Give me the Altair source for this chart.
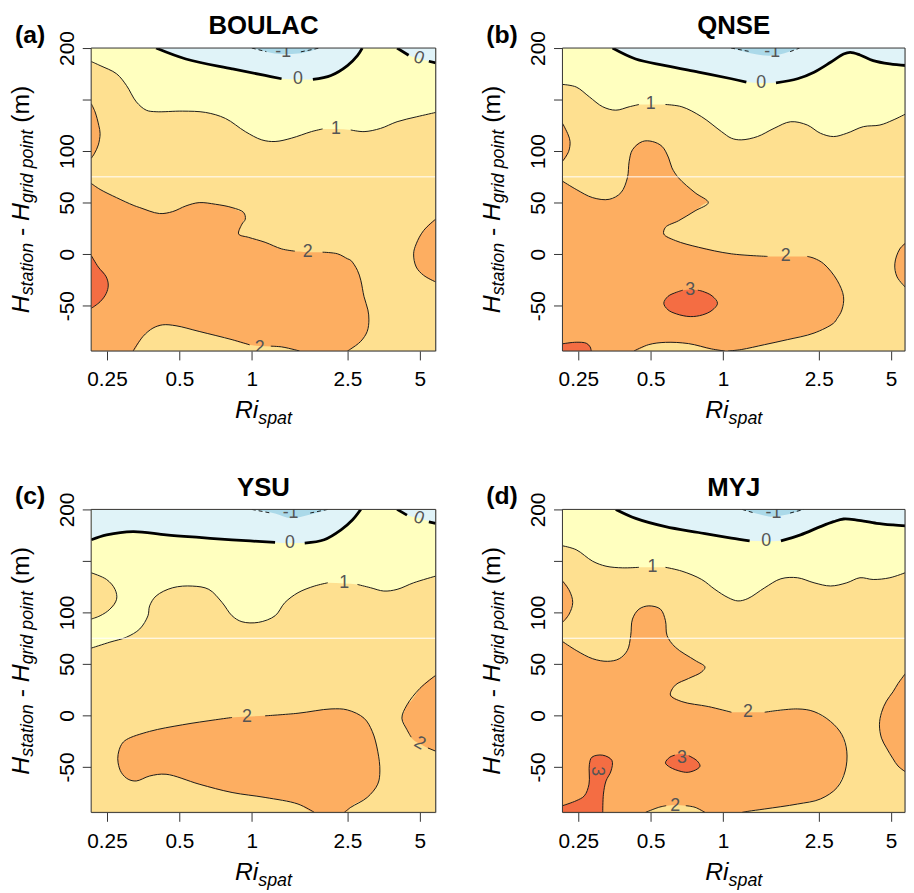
import altair as alt
import pandas as pd

# ---------------- shared texts / ticks ----------------
PANEL_TITLES = ["BOULAC", "QNSE", "YSU", "MYJ"]
PANEL_TAGS = ["(a)", "(b)", "(c)", "(d)"]
X_TICKS = [0.25, 0.5, 1, 2.5, 5]
Y_TICKS = [-50, 0, 50, 100, 150, 200]
Y_DOMAIN = [-94, 200]
WHITE_LINE_Y = [75]
X_TITLE_TEXT = ["Ri", "spat"]
Y_TITLE_TEXT = ["H", "station", "-", "H", "grid point", "(m)"]

BAND_COLORS = {"neg1": "#abd9e9", "neg0": "#e0f3f8", "b01": "#ffffbf",
               "b12": "#fee090", "b23": "#fdae61", "b3": "#f46d43"}

# ---------------- (a) BOULAC ----------------  rows: (x, upper, lower)
A_YELLOW = [(0.215, 200, 186.9), (0.234, 200, 183), (0.274, 200, 175), (0.301, 200, 163.8), (0.331, 200, 147.8),
            (0.364, 200, 139.7), (0.40, 200, 138.2), (0.515, 200, 138.8), (0.643, 200, 137.5), (0.777, 200, 131.7),
            (0.94, 200, 118.9), (1.10, 200, 110.9), (1.25, 200, 109.3), (1.46, 200, 112.5), (1.77, 200, 118.9),
            (1.97, 200, 121.5), (2.24, 200, 121.5), (2.58, 200, 120.5), (2.93, 200, 118.9), (3.43, 200, 122),
            (4.02, 200, 128.5), (4.85, 200, 133.3), (5.82, 200, 137.5)]
A_BLUE_1 = [(0.40, 200, 200), (0.532, 200, 189.4), (0.828, 200, 179.8), (1.136, 200, 173.4), (1.33, 200, 170.2),
            (1.557, 200, 169.5), (1.795, 200, 169.5), (2.135, 200, 173.4), (2.50, 200, 183), (2.75, 200, 192.6),
            (2.88, 200, 200)]
A_BLUE_2 = [(4.02, 200, 200), (4.49, 200, 193), (5.0, 200, 189.4), (5.82, 200, 185.6)]
A_NEG1 = [(1.0, 200, 200), (1.15, 200, 196.5), (1.35, 200, 194), (1.6, 200, 195), (1.91, 200, 200)]
A_ORANGE_UL = [(0.215, 146, 93), (0.223, 138, 98.5), (0.231, 125, 108), (0.234, 117, 117)]
A_ORANGE_MAIN = [(0.215, 68.6, -94), (0.234, 62.8, -94), (0.274, 54.8, -94), (0.321, 47.5, -94), (0.342, 45.2, -85),
                 (0.353, 44.2, -79.8), (0.388, 41, -71.8), (0.413, 39.4, -70), (0.426, 39.8, -68.6),
                 (0.469, 41.3, -69), (0.484, 42.8, -69.5), (0.532, 46.8, -71.4), (0.604, 50, -75),
                 (0.707, 48.4, -79), (0.828, 45.2, -83), (0.88, 42, -85.5), (0.925, 40.4, -87), (0.94, 34, -87.3),
                 (0.945, 17.3, -87.4), (0.97, 16.3, -88), (1.136, 11.5, -89.5), (1.33, 5.1, -90),
                 (1.51, 2.9, -92.8), (1.58, 2.5, -94), (1.71, 1.9, -94), (1.97, 1.9, -94), (2.275, 0.3, -94),
                 (2.5, -4.5, -94), (2.58, -6, -92), (2.75, -15.7, -87.5), (2.84, -25.3, -84.6),
                 (2.93, -41.3, -80.5), (3.02, -51.5, -75), (3.04, -54.1, -72), (3.07, -63.8, -63.8)]
A_NOTCH = [(0.882, 19.5, 19.5), (0.91, 29.1, 18.4), (0.94, 34, 17.4), (0.947, 34, 17.2)]
A_ORANGE_R = [(4.71, 0.3, 0.3), (4.83, 10, -12.5), (5.18, 22.8, -20.5), (5.82, 34, -27)]
A_RED = [(0.215, -1.3, -52.6), (0.23, -12.5, -47.5), (0.248, -22, -38.2), (0.253, -30, -30)]
A_PATCHES = [("b01", A_YELLOW), ("neg0", A_BLUE_1), ("neg0", A_BLUE_2), ("neg1", A_NEG1),
             ("b23", A_ORANGE_UL), ("b23", A_ORANGE_MAIN), ("b12", A_NOTCH), ("b23", A_ORANGE_R), ("b3", A_RED)]
A_THICK = [[(0.40, 200), (0.532, 189.4), (0.828, 179.8), (1.136, 173.4), (1.33, 170.2)],
           [(1.795, 169.5), (2.135, 173.4), (2.50, 183), (2.75, 192.6), (2.88, 200)],
           [(4.02, 200), (4.49, 193)], [(5.45, 187.2), (5.82, 185.6)]]
A_THIN = [[(0.215, 186.9), (0.234, 183), (0.274, 175), (0.301, 163.8), (0.331, 147.8), (0.364, 139.7), (0.40, 138.2),
           (0.515, 138.8), (0.643, 137.5), (0.777, 131.7), (0.94, 118.9), (1.10, 110.9), (1.25, 109.3),
           (1.46, 112.5), (1.77, 118.9), (1.97, 121.5)],
          [(2.58, 120.5), (2.93, 118.9), (3.43, 122), (4.02, 128.5), (4.85, 133.3), (5.82, 137.5)],
          [(0.215, 146), (0.223, 138), (0.231, 125), (0.234, 117), (0.23, 106), (0.222, 98), (0.215, 93)],
          [(0.215, 68.6), (0.234, 62.8), (0.274, 54.8), (0.321, 47.5), (0.342, 45.2), (0.413, 39.4), (0.469, 41.3),
           (0.532, 46.8), (0.604, 50), (0.707, 48.4), (0.828, 45.2), (0.925, 40.4), (0.94, 34), (0.91, 29.1),
           (0.882, 19.5), (0.97, 16.3), (1.136, 11.5), (1.33, 5.1), (1.51, 2.9)],
          [(1.97, 1.9), (2.275, 0.3), (2.5, -4.5), (2.58, -6), (2.75, -15.7), (2.84, -25.3), (2.93, -41.3),
           (3.04, -54.1), (3.07, -63.8), (3.02, -75), (2.84, -84.6), (2.58, -92), (2.5, -94)],
          [(0.321, -94), (0.353, -79.8), (0.388, -71.8), (0.426, -68.6), (0.484, -69.5), (0.604, -75),
           (0.828, -83), (0.98, -88)],
          [(1.2, -89.3), (1.33, -90), (1.51, -92.8), (1.58, -94)],
          [(0.215, -1.3), (0.23, -12.5), (0.248, -22), (0.253, -30), (0.248, -38.2), (0.234, -46.2), (0.215, -52.6)],
          [(5.82, 34), (5.18, 22.8), (4.83, 10), (4.71, 0.3), (4.83, -12.5), (5.18, -20.5), (5.82, -27)]]
A_DASH = [[(1.0, 200), (1.15, 196.5)], [(1.6, 196.3), (1.91, 200)]]
A_LABELS = [("0", 1.557, 169.5, 0), ("0", 4.95, 190, 20), ("1", 2.24, 121.5, 0), ("2", 1.71, 1.9, 0),
            ("2", 1.08, -91, 0), ("-1", 1.35, 196, 0)]

# ---------------- (b) QNSE ----------------
B_YELLOW = [(0.215, 200, 164.7), (0.245, 200, 162.2), (0.278, 200, 152.6), (0.316, 200, 143), (0.358, 200, 139.7),
            (0.407, 200, 143), (0.447, 200, 145.2), (0.5, 200, 145.2), (0.576, 200, 145.2), (0.674, 200, 143),
            (0.815, 200, 133.3), (0.985, 200, 118.9), (1.083, 200, 112.5), (1.19, 200, 110.9), (1.39, 200, 114.1),
            (1.63, 200, 122.1), (1.91, 200, 128.5), (2.24, 200, 125.3), (2.54, 200, 117.3), (2.88, 200, 114.1),
            (3.27, 200, 117.3), (3.83, 200, 123.7), (4.49, 200, 125.3), (5.09, 200, 130.1), (5.8, 200, 136.5)]
B_BLUE = [(0.347, 200, 200), (0.433, 200, 189.4), (0.576, 200, 183), (0.79, 200, 176.6), (1.083, 200, 170.2),
          (1.25, 200, 167), (1.44, 200, 166), (1.66, 200, 166.3), (2.04, 200, 170.2), (2.39, 200, 176.6),
          (2.80, 200, 186.2), (3.17, 200, 194.2), (3.38, 200, 195.8), (3.71, 200, 193.3), (4.21, 200, 187.8),
          (4.94, 200, 184.6), (5.8, 200, 183)]
B_NEG1 = [(1.08, 200, 200), (1.3, 200, 195), (1.55, 200, 192.6), (1.8, 200, 195), (2.08, 200, 200)]
B_ORANGE_UL = [(0.215, 126.9, 90.1), (0.227, 115.7, 98.5), (0.231, 109.3, 105), (0.232, 107, 107)]
B_ORANGE_MAIN = [(0.215, 70.8, -94), (0.245, 62.8, -94), (0.287, 54.8, -94), (0.336, 53.2, -94), (0.376, 59.6, -94),
                 (0.40, 74, -94), (0.407, 90.1, -94), (0.42, 101.3, -94), (0.426, 104, -94), (0.462, 109.3, -91),
                 (0.491, 109.8, -87.8), (0.508, 109.3, -87.2), (0.558, 104.5, -85.8), (0.594, 93.3, -85.7),
                 (0.613, 83.7, -85.9), (0.653, 74, -86.3), (0.718, 65, -86.8), (0.765, 59.6, -88.5),
                 (0.868, 50, -92), (0.872, 5.1, -92.1), (0.896, 4.2, -92.4), (1.016, 1.2, -94), (1.05, 0.6, -94),
                 (1.083, 0.3, -93.5), (1.19, -0.8, -92.6), (1.49, -2.2, -87.8), (1.82, -2.2, -83.2),
                 (2.24, -2.2, -78.3), (2.39, -4, -76.6), (2.62, -9.3, -72.5), (2.88, -20, -67),
                 (2.98, -25.3, -62.5), (3.12, -36, -54.1), (3.17, -41.3, -41.3)]
B_NOTCH = [(0.567, 19.5, 19.5), (0.576, 26, 18.6), (0.633, 30.8, 13.2), (0.653, 32.4, 12.3), (0.765, 42, 7.6),
           (0.868, 50, 5.2), (0.878, 50, 5.0)]
B_RED_1 = [(0.567, -47.7, -47.7), (0.59, -41, -54), (0.64, -37, -58), (0.73, -34.3, -60.6), (0.82, -36, -59),
           (0.9, -40.5, -54.5), (0.948, -47.7, -47.7)]
B_RED_2 = [(0.215, -87, -94), (0.245, -85.5, -94), (0.27, -86.5, -94), (0.28, -90, -94), (0.283, -94, -94)]
B_ORANGE_R = [(5.18, -9.3, -9.3), (5.29, -1, -22), (5.43, 5, -25), (5.8, 11.5, -33.3)]
B_PATCHES = [("b01", B_YELLOW), ("neg0", B_BLUE), ("neg1", B_NEG1), ("b23", B_ORANGE_UL), ("b23", B_ORANGE_MAIN),
             ("b12", B_NOTCH), ("b3", B_RED_1), ("b3", B_RED_2), ("b23", B_ORANGE_R)]
B_THICK = [[(0.347, 200), (0.433, 189.4), (0.576, 183), (0.79, 176.6), (1.083, 170.2), (1.25, 167)],
           [(1.66, 166.3), (2.04, 170.2), (2.39, 176.6), (2.80, 186.2), (3.17, 194.2), (3.38, 195.8), (3.71, 193.3),
            (4.21, 187.8), (4.94, 184.6), (5.8, 183)]]
B_THIN = [[(0.215, 164.7), (0.245, 162.2), (0.278, 152.6), (0.316, 143), (0.358, 139.7), (0.407, 143), (0.447, 145.2)],
          [(0.576, 145.2), (0.674, 143), (0.815, 133.3), (0.985, 118.9), (1.083, 112.5), (1.19, 110.9), (1.39, 114.1),
           (1.63, 122.1), (1.91, 128.5), (2.24, 125.3), (2.54, 117.3), (2.88, 114.1), (3.27, 117.3), (3.83, 123.7),
           (4.49, 125.3), (5.09, 130.1), (5.8, 136.5)],
          [(0.215, 126.9), (0.227, 115.7), (0.231, 109.3), (0.228, 99.7), (0.215, 90.1)],
          [(0.215, 70.8), (0.245, 62.8), (0.287, 54.8), (0.336, 53.2), (0.376, 59.6), (0.40, 74), (0.407, 90.1),
           (0.42, 101.3), (0.462, 109.3), (0.508, 109.3), (0.558, 104.5), (0.594, 93.3), (0.613, 83.7),
           (0.653, 74), (0.765, 59.6), (0.868, 50), (0.765, 42), (0.653, 32.4), (0.576, 26), (0.567, 19.5),
           (0.633, 13.2), (0.79, 6.7), (1.083, 0.3), (1.53, -2.2)],
          [(2.24, -2.2), (2.39, -4), (2.62, -9.3), (2.98, -25.3), (3.17, -41.3), (3.12, -54.1), (2.98, -62.5),
           (2.88, -67), (2.39, -76.6), (1.85, -83), (1.49, -87.8), (1.19, -92.6), (1.05, -94)],
          [(0.426, -94), (0.491, -87.8), (0.576, -85.6), (0.718, -86.8), (0.896, -92), (1.016, -94)],
          [(0.68, -35), (0.64, -37), (0.59, -41), (0.567, -47.7), (0.59, -54), (0.64, -58), (0.73, -60.6),
           (0.82, -59), (0.9, -54.5), (0.948, -47.7), (0.9, -40.5), (0.82, -36), (0.785, -35)],
          [(0.215, -87), (0.245, -85.5), (0.27, -86.5), (0.28, -90), (0.283, -94)],
          [(5.8, 11.5), (5.43, 5), (5.18, -9.3), (5.29, -22), (5.8, -33.3)]]
B_DASH = [[(1.08, 200), (1.3, 196.5)], [(1.9, 196.5), (2.08, 200)]]
B_LABELS = [("0", 1.44, 166, 0), ("1", 0.5, 145.2, 0), ("2", 1.82, -2.2, 0), ("3", 0.73, -35, 0),
            ("-1", 1.6, 196, 0)]

# ---------------- (c) YSU ----------------
C_YELLOW = [(0.215, 200, 65.4), (0.257, 200, 71.2), (0.301, 200, 76), (0.342, 200, 84), (0.37, 200, 96.8),
            (0.376, 200, 106.4), (0.40, 200, 116), (0.469, 200, 124), (0.567, 200, 125.6), (0.663, 200, 122.4),
            (0.753, 200, 109.6), (0.828, 200, 96.8), (0.91, 200, 91), (1.066, 200, 90.4), (1.25, 200, 96.8),
            (1.373, 200, 109.6), (1.557, 200, 119.2), (1.82, 200, 125.6), (2.07, 200, 128.8), (2.425, 200, 128.2),
            (2.75, 200, 127.2), (3.12, 200, 124), (3.54, 200, 120.8), (4.02, 200, 122.4), (4.71, 200, 128.8),
            (5.82, 200, 135.3)]
C_BLUE_1 = [(0.215, 200, 170.5), (0.249, 200, 175.3), (0.321, 200, 178.5), (0.44, 200, 175.3), (0.604, 200, 172.8),
            (0.828, 200, 170.5), (1.25, 200, 168), (1.44, 200, 167.3), (1.66, 200, 167.3), (2.0, 200, 170.5),
            (2.35, 200, 180.1), (2.62, 200, 189.7), (2.84, 200, 200)]
C_BLUE_2 = [(4.02, 200, 200), (4.42, 200, 194.5), (5.0, 200, 191.3), (5.82, 200, 186.5)]
C_NEG1 = [(1.0, 200, 200), (1.25, 200, 196), (1.45, 200, 191.5), (1.75, 200, 195), (2.07, 200, 200)]
C_LIGHT_L = [(0.215, 138.5, 93.6), (0.234, 135, 96.8), (0.249, 132, 100.9), (0.257, 129.5, 103.2),
             (0.27, 122.4, 107.5), (0.274, 112.8, 112.8)]
C_ORANGE_MAIN = [(0.277, -40, -43), (0.278, -37.8, -45.9), (0.287, -28.2, -55.5), (0.301, -23.4, -60.5),
                 (0.306, -22.4, -61.8), (0.331, -19, -63.5), (0.376, -15.4, -58.7), (0.44, -12.2, -57),
                 (0.515, -9, -61.5), (0.604, -6.5, -66.6), (0.707, -4.1, -71.5), (0.828, -1.9, -74.7),
                 (1.136, -0.3, -79.5), (1.557, 2.2, -85.9), (1.82, 4.5, -94), (2.135, 6.4, -94), (2.425, 6, -94),
                 (2.5, 5.4, -93), (2.58, 4.2, -89.1), (2.93, -2.6, -81.3), (3.02, -6, -79.5), (3.17, -15.4, -74.5),
                 (3.34, -34.6, -66.6), (3.41, -53.8, -53.8)]
C_ORANGE_R = [(4.21, -2.6, -2.6), (4.42, 10.3, -13.8), (4.6, 14, -21), (5.0, 26.3, -27.5), (5.82, 39, -34.6)]
C_PATCHES = [("b01", C_YELLOW), ("neg0", C_BLUE_1), ("neg0", C_BLUE_2), ("neg1", C_NEG1), ("b12", C_LIGHT_L),
             ("b23", C_ORANGE_MAIN), ("b23", C_ORANGE_R)]
C_THICK = [[(0.215, 170.5), (0.249, 175.3), (0.321, 178.5), (0.44, 175.3), (0.604, 172.8), (0.828, 170.5),
            (1.25, 168)],
           [(1.66, 167.3), (2.0, 170.5), (2.35, 180.1), (2.62, 189.7), (2.84, 200)],
           [(4.02, 200), (4.42, 194.5)], [(5.45, 188), (5.82, 186.5)]]
C_THIN = [[(0.215, 65.4), (0.257, 71.2), (0.301, 76), (0.342, 84), (0.37, 96.8), (0.376, 106.4), (0.40, 116),
           (0.469, 124), (0.567, 125.6), (0.663, 122.4), (0.753, 109.6), (0.828, 96.8), (0.91, 91), (1.066, 90.4),
           (1.25, 96.8), (1.373, 109.6), (1.557, 119.2), (1.82, 125.6), (2.07, 128.8)],
          [(2.75, 127.2), (3.12, 124), (3.54, 120.8), (4.02, 122.4), (4.71, 128.8), (5.82, 135.3)],
          [(0.215, 138.5), (0.249, 132), (0.27, 122.4), (0.274, 112.8), (0.257, 103.2), (0.234, 96.8),
           (0.215, 93.6)],
          [(0.828, -1.9), (0.707, -4.1), (0.515, -9), (0.376, -15.4), (0.301, -23.4), (0.287, -28.2),
           (0.278, -37.8), (0.278, -45.9), (0.287, -55.5), (0.306, -61.8), (0.331, -63.5), (0.376, -58.7),
           (0.44, -57), (0.604, -66.6), (0.828, -74.7), (1.136, -79.5), (1.557, -85.9), (1.82, -94)],
          [(1.136, -0.3), (1.557, 2.2), (2.135, 6.4), (2.5, 5.4), (2.93, -2.6), (3.17, -15.4), (3.34, -34.6),
           (3.41, -53.8), (3.34, -66.6), (3.02, -79.5), (2.58, -89.1), (2.425, -94)],
          [(5.82, 39), (5.0, 26.3), (4.42, 10.3), (4.21, -2.6), (4.42, -13.8), (4.6, -21)],
          [(5.4, -31.5), (5.82, -34.6)]]
C_DASH = [[(1.0, 200), (1.2, 196.5)], [(1.75, 196.5), (2.07, 200)]]
C_LABELS = [("0", 1.44, 167.3, 0), ("0", 4.95, 191.5, 20), ("1", 2.425, 128.2, 0), ("2", 0.954, -1.5, 0),
            ("2", 5.0, -27, 30), ("-1", 1.45, 196, 0)]

# ---------------- (d) MYJ ----------------
D_YELLOW = [(0.215, 200, 164.7), (0.245, 200, 160.9), (0.287, 200, 149.7), (0.326, 200, 144.9), (0.382, 200, 143.3),
            (0.447, 200, 143.8), (0.508, 200, 143.8), (0.576, 200, 143.8), (0.674, 200, 140.1), (0.815, 200, 132),
            (0.925, 200, 122.4), (1.05, 200, 114.4), (1.153, 200, 111.2), (1.268, 200, 113.5), (1.49, 200, 124),
            (1.74, 200, 132.7), (2.04, 200, 133.7), (2.39, 200, 128.8), (2.80, 200, 125.7), (3.27, 200, 128.8),
            (3.71, 200, 133.7), (4.21, 200, 132), (4.94, 200, 133.7), (5.8, 200, 139.1)]
D_BLUE = [(0.358, 200, 200), (0.433, 200, 191.3), (0.576, 200, 183.3), (0.79, 200, 177.6), (1.083, 200, 172.1),
          (1.29, 200, 169.5), (1.51, 200, 169), (1.74, 200, 169.5), (2.10, 200, 175.3), (2.54, 200, 183.3),
          (2.88, 200, 188.1), (3.17, 200, 190.7), (3.60, 200, 189.7), (4.35, 200, 186.5), (5.09, 200, 184.9),
          (5.8, 200, 184)]
D_NEG1 = [(1.2, 200, 200), (1.4, 200, 195.5), (1.58, 200, 193), (1.85, 200, 195), (2.17, 200, 200)]
D_ORANGE_UL = [(0.215, 130.5, 90.4), (0.23, 120.8, 99), (0.237, 109.6, 109.6)]
D_ORANGE_MAIN = [(0.215, 71.8, -94), (0.245, 63.2, -94), (0.287, 55.1, -94), (0.331, 52.6, -94), (0.37, 55.1, -94),
                 (0.40, 63.2, -94), (0.413, 77.6, -94), (0.42, 93.6, -94), (0.447, 103.2, -94), (0.476, 105.5, -94),
                 (0.491, 106.4, -92.5), (0.54, 104, -89.1), (0.549, 103.2, -88.8), (0.576, 92, -87.8),
                 (0.585, 77.6, -87.6), (0.633, 66.3, -86.8), (0.7, 59, -87.5), (0.765, 53.5, -89.1),
                 (0.841, 47.1, -94), (0.844, 8.8, -94), (0.868, 8.7, -94), (1.083, 3.2, -94), (1.2, 3.2, -94),
                 (1.268, 3.2, -93), (1.49, 3.2, -90.7), (2.04, 6.4, -85.9), (2.39, 3.8, -82.5), (2.54, 0, -81),
                 (2.80, -5.8, -75.5), (2.98, -12, -69.9), (3.12, -18.6, -60), (3.22, -29, -53.8),
                 (3.27, -35, -43), (3.28, -39, -39)]
D_NOTCH = [(0.604, 19.9, 19.9), (0.633, 29.5, 17), (0.674, 32.5, 13.5), (0.718, 35.9, 12.3), (0.815, 42.3, 9.5),
           (0.841, 47.1, 9.1), (0.85, 47.1, 8.9)]
D_RED_1 = [(0.215, -87.5, -94), (0.245, -82.7, -94), (0.265, -77.9, -94), (0.277, -66.6, -94), (0.278, -47.4, -94),
           (0.285, -40.4, -94), (0.316, -38.5, -94), (0.318, -38.6, -76.3), (0.326, -39.3, -63.5),
           (0.342, -42, -53.8), (0.345, -43.6, -48), (0.346, -46, -46)]
D_RED_2 = [(0.576, -45.9, -45.9), (0.6, -40.5, -50), (0.674, -37.2, -54.5), (0.72, -39, -55), (0.78, -44, -52),
           (0.802, -49, -49)]
D_ORANGE_R = [(4.47, -9, -9), (4.56, 3, -22), (4.78, 14, -31.4), (5.09, 23, -42), (5.34, 31, -49),
              (5.8, 42.3, -55.5)]
D_PATCHES = [("b01", D_YELLOW), ("neg0", D_BLUE), ("neg1", D_NEG1), ("b23", D_ORANGE_UL), ("b23", D_ORANGE_MAIN),
             ("b12", D_NOTCH), ("b3", D_RED_1), ("b3", D_RED_2), ("b23", D_ORANGE_R)]
D_THICK = [[(0.358, 200), (0.433, 191.3), (0.576, 183.3), (0.79, 177.6), (1.083, 172.1), (1.29, 169.5)],
           [(1.74, 169.5), (2.10, 175.3), (2.54, 183.3), (2.88, 188.1), (3.17, 190.7), (3.60, 189.7), (4.35, 186.5),
            (5.09, 184.9), (5.8, 184)]]
D_THIN = [[(0.215, 164.7), (0.245, 160.9), (0.287, 149.7), (0.326, 144.9), (0.382, 143.3), (0.447, 143.8)],
          [(0.576, 143.8), (0.674, 140.1), (0.815, 132), (0.925, 122.4), (1.05, 114.4), (1.153, 111.2),
           (1.268, 113.5), (1.49, 124), (1.74, 132.7), (2.04, 133.7), (2.39, 128.8), (2.80, 125.7), (3.27, 128.8),
           (3.71, 133.7), (4.21, 132), (4.94, 133.7), (5.8, 139.1)],
          [(0.215, 130.5), (0.23, 120.8), (0.237, 109.6), (0.229, 98.4), (0.215, 90.4)],
          [(0.215, 71.8), (0.245, 63.2), (0.287, 55.1), (0.331, 52.6), (0.37, 55.1), (0.40, 63.2), (0.413, 77.6),
           (0.42, 93.6), (0.447, 103.2), (0.491, 106.4), (0.549, 103.2), (0.576, 92), (0.585, 77.6),
           (0.633, 66.3), (0.765, 53.5), (0.841, 47.1), (0.815, 42.3), (0.718, 35.9), (0.633, 29.5),
           (0.604, 19.9), (0.674, 13.5), (0.868, 8.7), (1.083, 3.2)],
          [(1.49, 3.2), (2.04, 6.4), (2.39, 3.8), (2.80, -5.8), (3.12, -18.6), (3.27, -34.6), (3.22, -53.8),
           (2.98, -69.9), (2.54, -81), (2.04, -85.9), (1.49, -90.7), (1.268, -93), (1.2, -94)],
          [(0.476, -94), (0.54, -89.1), (0.58, -87.5)], [(0.70, -87.5), (0.765, -89.1), (0.841, -94)],
          [(0.215, -87.5), (0.245, -82.7), (0.265, -77.9), (0.277, -66.6), (0.278, -47.4), (0.285, -40.4),
           (0.316, -38.5), (0.345, -43.6), (0.342, -53.8), (0.326, -63.5), (0.318, -76.3), (0.316, -94)],
          [(0.72, -39), (0.78, -44), (0.802, -49), (0.78, -52), (0.72, -55), (0.674, -54.5), (0.6, -50),
           (0.576, -45.9), (0.6, -40.5), (0.63, -38.5)],
          [(5.8, 42.3), (5.34, 31), (5.09, 23), (4.78, 14), (4.56, 3), (4.47, -9), (4.56, -22), (4.78, -31.4),
           (5.09, -42), (5.34, -49), (5.8, -55.5)]]
D_DASH = [[(1.2, 200), (1.35, 196.5)], [(1.9, 196.5), (2.17, 200)]]
D_LABELS = [("0", 1.51, 169, 0), ("1", 0.508, 143.8, 0), ("2", 1.268, 3.2, 0), ("2", 0.633, -88, 0),
            ("3", 0.674, -41.5, 0), ("3", 0.3, -54, 90), ("-1", 1.62, 196, 0)]

# ---------------- styling ----------------
FONT = "Liberation Sans"
PLOT_H = 306
AXIS_GREY = "#333333"
LINE_COL = "#1a1a1a"
LABEL_COL = "#555555"


def line_df(segs):
    recs = []
    for s, pts in enumerate(segs):
        for i, (x, y) in enumerate(pts):
            recs.append({"seg": s, "i": i, "x": x, "y": y})
    return pd.DataFrame(recs)


def text_layer(text, x, y, size, weight="normal", style="normal", angle=0, align="left"):
    return alt.Chart(pd.DataFrame({"t": [text]})).mark_text(
        font=FONT, fontSize=size, fontWeight=weight, fontStyle=style, angle=angle,
        align=align, baseline="alphabetic", color="black"
    ).encode(x=alt.value(x), y=alt.value(y), text="t:N")


def make_panel(k, width, xdomain, patches, thick, thin, dash, labels):
    xs = alt.Scale(type="log", domain=xdomain, nice=False)
    ys = alt.Scale(domain=Y_DOMAIN, nice=False, zero=False)
    xaxis = alt.Axis(values=X_TICKS, labelExpr="'' + datum.value", title=None, grid=False, domain=False,
                     ticks=True, tickSize=9, tickColor=AXIS_GREY, tickWidth=1, labelFont=FONT, labelFontSize=21,
                     labelColor="black", labelPadding=26, labelBaseline="alphabetic", labelAlign="center",
                     labelFlush=False, labelOverlap=False)
    yaxis = alt.Axis(values=Y_TICKS, labelExpr="datum.value == 150 ? '' : '' + datum.value", title=None,
                     grid=False, domain=False, ticks=True, tickSize=9, tickColor=AXIS_GREY, tickWidth=1,
                     labelFont=FONT, labelFontSize=21, labelColor="black", labelAngle=270, labelAlign="center",
                     labelBaseline="alphabetic", labelPadding=9, labelFlush=False, labelOverlap=False)

    layers = []
    # background band (value 1-2) filling the whole plot area
    layers.append(alt.Chart(pd.DataFrame({"f": [0]})).mark_rect(color=BAND_COLORS["b12"]).encode(
        x=alt.value(0), x2=alt.value(width), y=alt.value(0), y2=alt.value(PLOT_H)))

    for band, rows in patches:
        df = pd.DataFrame(rows, columns=["x", "hi", "lo"])
        layers.append(alt.Chart(df).mark_area(color=BAND_COLORS[band], interpolate="monotone", clip=True).encode(
            x=alt.X("x:Q", scale=xs, axis=xaxis),
            y=alt.Y("hi:Q", scale=ys, axis=yaxis),
            y2="lo:Q"))

    def lines(segs, **style):
        return alt.Chart(line_df(segs)).mark_line(interpolate="catmull-rom", clip=True, **style).encode(
            x=alt.X("x:Q", scale=xs, axis=xaxis),
            y=alt.Y("y:Q", scale=ys, axis=yaxis),
            detail="seg:N", order=alt.Order("i:Q"))

    layers.append(lines(thin, color=LINE_COL, strokeWidth=1))
    layers.append(lines(dash, color=LINE_COL, strokeWidth=1, strokeDash=[4, 3]))
    layers.append(lines(thick, color="black", strokeWidth=2.8))

    lab = pd.DataFrame(labels, columns=["label", "x", "y", "angle"])
    layers.append(alt.Chart(lab).mark_text(font=FONT, fontSize=18, color=LABEL_COL, align="center",
                                           baseline="middle", clip=True).encode(
        x=alt.X("x:Q", scale=xs, axis=xaxis), y=alt.Y("y:Q", scale=ys, axis=yaxis),
        text="label:N", angle=alt.Angle("angle:Q", scale=None)))

    layers.append(alt.Chart(pd.DataFrame({"y": WHITE_LINE_Y})).mark_rule(color="white", strokeWidth=1).encode(
        y=alt.Y("y:Q", scale=ys, axis=yaxis)))

    # plot frame
    layers.append(alt.Chart(pd.DataFrame({"f": [0]})).mark_rect(fillOpacity=0, stroke=AXIS_GREY, strokeWidth=1).encode(
        x=alt.value(0), x2=alt.value(width), y=alt.value(0), y2=alt.value(PLOT_H)))

    # titles and panel tags
    layers.append(text_layer(PANEL_TITLES[k], width / 2, -14, 26, weight="bold", align="center"))
    layers.append(text_layer(PANEL_TAGS[k], -77, -5, 25, weight="bold"))
    # x-axis title  Ri_spat
    layers.append(text_layer(X_TITLE_TEXT[0], width / 2 - 28.8, PLOT_H + 68, 25, style="italic"))
    layers.append(text_layer(X_TITLE_TEXT[1], width / 2 - 5.2, PLOT_H + 74, 18, style="italic"))
    # y-axis title  H_station - H_grid point (m)
    y_pos = [267.9, 249.8, 189.8, 174.6, 156.5, 75.5]
    x_pos = [-63, -59, -63, -63, -59, -63]
    sizes = [25, 18, 25, 25, 18, 25]
    styles = ["italic", "italic", "normal", "italic", "italic", "normal"]
    for t, yy, xx, sz, st in zip(Y_TITLE_TEXT, y_pos, x_pos, sizes, styles):
        layers.append(text_layer(t, xx, yy, sz, style=st, angle=270))

    return alt.layer(*layers).properties(width=width, height=PLOT_H)


pa = make_panel(0, 348, [0.2148, 5.82], A_PATCHES, A_THICK, A_THIN, A_DASH, A_LABELS)
pb = make_panel(1, 346, [0.2148, 5.71], B_PATCHES, B_THICK, B_THIN, B_DASH, B_LABELS)
pc = make_panel(2, 348, [0.2148, 5.82], C_PATCHES, C_THICK, C_THIN, C_DASH, C_LABELS)
pd_ = make_panel(3, 346, [0.2148, 5.71], D_PATCHES, D_THICK, D_THIN, D_DASH, D_LABELS)

chart = alt.concat(pa, pb, pc, pd_, columns=2, spacing={"row": 160, "column": 128}, bounds="flush",
                   padding={"left": 0, "top": 0, "right": 0, "bottom": 0}
                   ).configure_view(stroke="transparent").configure(font=FONT)

chart.save("out.html", embed_options={"renderer": "svg", "actions": False})
